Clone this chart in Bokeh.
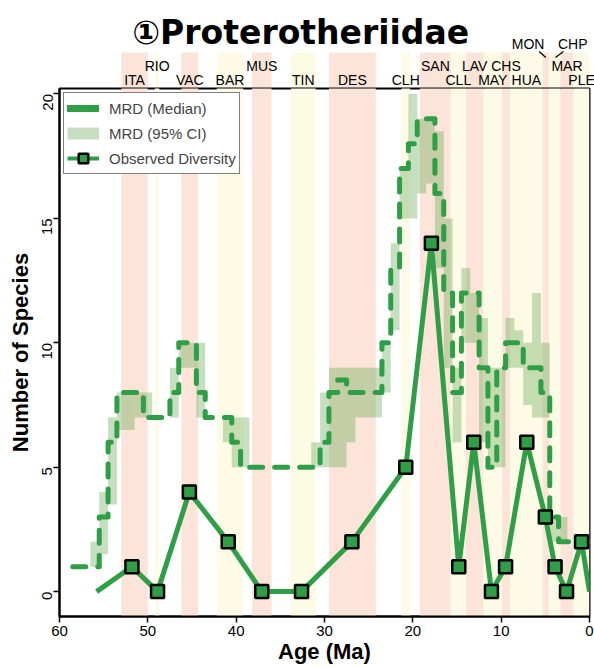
import math
from bokeh.plotting import figure
from bokeh.layouts import column
from bokeh.models import Range1d, FixedTicker, Legend, LegendItem
from bokeh.core.properties import value
from bokeh.embed import file_html
from bokeh.resources import INLINE

# ---------------- data ----------------
title_text = "①Proterotheriidae"

# 1-Myr bins (bin centre ages, Ma) for the MRD curve
bin_age = [58, 57, 56, 55, 54, 53, 52, 51, 50, 49, 48, 47, 46, 45, 44, 43, 42, 41, 40, 39,
           38, 37, 36, 35, 34, 33, 32, 31, 30, 29, 28, 27, 26, 25, 24, 23, 22, 21, 20, 19,
           18, 17, 16, 15, 14, 13, 12, 11, 10, 9, 8, 7, 6, 5, 4, 3, 2, 1, 0]
mrd_median = [1, 1, 1, 3, 6, 8, 8, 8, 7, 7, 7, 8, 10, 10, 8, 7, 7, 7, 6, 5,
              5, 5, 5, 5, 5, 5, 5, 5, 6, 8, 8.5, 8, 8, 8, 8, 10, 13, 17, 18, 19,
              19, 16, 12, 8, 12, 12, 9, 5, 9, 10, 10, 9, 9, 8, 3, 2, 2, 2, 2]
mrd_lo = [1, 1, 1, 1.5, 3.5, 6.5, 6.5, 7, 7, 7, 7, 7, 9, 9, 7, 7, 7, 6, 5, 5,
          5, 5, 5, 5, 5, 5, 5, 5, 5, 5, 5, 6, 7, 7, 7, 8, 10.5, 15, 15, 16,
          16.4, 13, 9, 6, 10, 10, 6, 5, 5, 9, 9, 7.5, 7, 7, 2, 2, 2, 2, 2]
mrd_hi = [1, 1, 2, 4, 7, 8, 8, 8, 8, 7, 7, 9, 10, 10, 10, 7, 7, 7, 7, 7,
          5, 5, 5, 5, 5, 5, 5, 6, 8, 9, 9, 9, 9, 9, 9, 10, 14, 17, 20, 19,
          19, 18.5, 15, 9, 13, 12, 11, 9, 9, 11, 10.5, 10, 12, 10, 3, 3, 2, 2, 2]

# observed diversity (line end points carry no marker)
obs_age = [55.8, 51.8, 48.9, 45.3, 40.9, 37.1, 32.6, 26.9, 20.8, 17.9,
           14.8, 13.1, 11.1, 9.5, 7.1, 5.0, 3.9, 2.6, 0.9, 0.0]
obs_div = [0, 1, 0, 4, 2, 0, 0, 2, 5, 14, 1, 6, 0, 1, 6, 3, 1, 0, 2, 0]

# South American Land Mammal Ages shown as bands
band_name = ["ITA", "RIO", "VAC", "BAR", "MUS", "TIN", "DES", "CLH", "SAN", "CLL",
             "LAV", "MAY", "CHS", "HUA", "MON", "CHP", "MAR", "PLE"]
band_old = [53.0, 49.2, 46.2, 42.2, 38.2, 33.8, 29.5, 21.3, 19.2, 15.7,
            14.0, 12.0, 9.9, 9.0, 5.3, 4.6, 3.3, 1.8]
band_young = [50.0, 48.7, 44.3, 39.2, 36.0, 31.0, 24.2, 20.3, 15.7, 14.0,
              12.0, 9.9, 9.0, 5.3, 4.6, 3.3, 1.8, 0.0]
band_row = [0, 1, 0, 0, 1, 0, 0, 0, 1, 0, 1, 0, 1, 0, 2, 2, 1, 0]

x_ticks = [60, 50, 40, 30, 20, 10, 0]
y_ticks = [0, 5, 10, 15, 20]

# ---------------- style ----------------
GREEN = "#2e9f46"
CI_COL = "#59a34b"
CI_ALPHA = 0.35
SALMON = "#fce4d8"
YELLOW = "#fdfbe6"
FONT = "Liberation Sans"
band_colors = [SALMON if i % 2 == 0 else YELLOW for i in range(len(band_name))]
NAN = float("nan")

W = 594
BL, BR = 59, 5            # left / right borders of the plot frame
PX_PER_MA = (W - BL - BR) / 60.0

# ---------------- header strip (title + interval names) ----------------
TOP_H = 87
t = figure(width=W, height=TOP_H,
           x_range=Range1d(60 + BL / PX_PER_MA, -BR / PX_PER_MA), y_range=Range1d(0, TOP_H),
           x_axis_location=None, y_axis_location=None, output_backend="svg",
           toolbar_location=None, min_border=0, outline_line_color=None)
t.frame_align = False
t.grid.visible = False
t.quad(left=band_old, right=band_young, bottom=0, top=35, fill_color=band_colors, line_color=None)

row_y = {0: 8, 1: 21.5, 2: 43.5}
lab_shift = {"MON": 2.0, "CHP": -2.05}
lab_x, lab_y, lead_x0, lead_x1, lead_y0, lead_y1 = [], [], [], [], [], []
for n, o, yg, r in zip(band_name, band_old, band_young, band_row):
    c = (o + yg) / 2
    lab_x.append(c + lab_shift.get(n, 0))
    lab_y.append(row_y[r])
    if n in lab_shift:
        d = 0.75 if lab_shift[n] > 0 else -1.0
        lead_x0.append(c + d)
        lead_x1.append(c + (0 if d > 0 else -0.1))
        lead_y0.append(36)
        lead_y1.append(30)
t.text(x=lab_x, y=lab_y, text=band_name, text_align="center", text_baseline="alphabetic",
       text_font=value(FONT), text_font_size="14px", text_color="black")
t.segment(x0=lead_x0, y0=lead_y0, x1=lead_x1, y1=lead_y1, line_color="black", line_width=1.2)
t.text(x=[32.7], y=[55.5], text=[title_text], text_align="center", text_baseline="alphabetic",
       text_font=value("DejaVu Sans"), text_font_style="bold", text_font_size="33px",
       text_color="black")

# ---------------- main plot ----------------
p = figure(width=W, height=668 - TOP_H, x_range=Range1d(60, 0), y_range=Range1d(-1.0, 20.22),
           output_backend="svg", toolbar_location=None,
           min_border_left=BL, min_border_right=BR, min_border_top=1, min_border_bottom=52)
p.grid.visible = False
p.outline_line_color = "black"
p.outline_line_width = 2

p.quad(left=band_old, right=band_young, bottom=-1.5, top=21, fill_color=band_colors, line_color=None)

ci_left = [a + 0.5 for a in bin_age]
ci_right = [a - 0.5 for a in bin_age]
p.quad(left=ci_left, right=ci_right, bottom=mrd_lo, top=mrd_hi,
       fill_color=CI_COL, fill_alpha=CI_ALPHA, line_color=None)

step_x, step_y = [], []
for a, m in zip(bin_age, mrd_median):
    step_x += [a + 0.5, a - 0.5]
    step_y += [m, m]
p.line(step_x, step_y, line_color=GREEN, line_width=5, line_dash="13 12",
       line_cap="round", line_join="round")

obs_line = p.line(obs_age, obs_div, line_color=GREEN, line_width=5, line_join="round")
obs_pts = p.scatter(obs_age[1:-1], obs_div[1:-1], marker="square", size=13,
                    fill_color=GREEN, line_color="black", line_width=2.5)

# legend swatches (single NaN point: drawn only in the legend)
leg_med = p.line(x=[NAN], y=[NAN], line_color=GREEN, line_width=7, line_cap="round")
leg_ci = p.line(x=[NAN], y=[NAN], line_color=CI_COL, line_alpha=CI_ALPHA, line_width=12)
leg_obs = p.line(x=[NAN], y=[NAN], line_color=GREEN, line_width=4)

legend = Legend(items=[LegendItem(label="MRD (Median)", renderers=[leg_med]),
                       LegendItem(label="MRD (95% CI)", renderers=[leg_ci]),
                       LegendItem(label="Observed Diversity", renderers=[leg_obs, obs_pts])],
                location="top_left", margin=4, padding=3, spacing=1,
                glyph_width=32, glyph_height=24, label_height=24, label_standoff=10,
                label_text_font=FONT, label_text_font_size="15px",
                border_line_color="black", border_line_width=1.5,
                background_fill_color="white", background_fill_alpha=1.0)
p.add_layout(legend)

p.xaxis.ticker = FixedTicker(ticks=x_ticks)
p.yaxis.ticker = FixedTicker(ticks=y_ticks)
p.xaxis.axis_label = "Age (Ma)"
p.yaxis.axis_label = "Number of Species"
for ax in (p.xaxis[0], p.yaxis[0]):
    ax.axis_line_color = "black"
    ax.axis_line_width = 2
    ax.major_tick_line_color = "black"
    ax.major_tick_line_width = 1.5
    ax.major_tick_out = 6
    ax.major_tick_in = 0
    ax.minor_tick_line_color = None
    ax.major_label_text_font = FONT
    ax.major_label_text_font_size = "15px"
    ax.major_label_text_color = "black"
    ax.axis_label_text_font = FONT
    ax.axis_label_text_font_style = "bold"
    ax.axis_label_text_font_size = "22px"
    ax.axis_label_text_color = "black"
p.xaxis.major_label_standoff = 3
p.xaxis.axis_label_standoff = 0
p.yaxis.major_label_orientation = math.pi / 2
p.yaxis.major_label_standoff = 6
p.yaxis.axis_label_standoff = 2

layout = column(t, p, spacing=0)
open("out.html", "w").write(file_html(layout, INLINE))
